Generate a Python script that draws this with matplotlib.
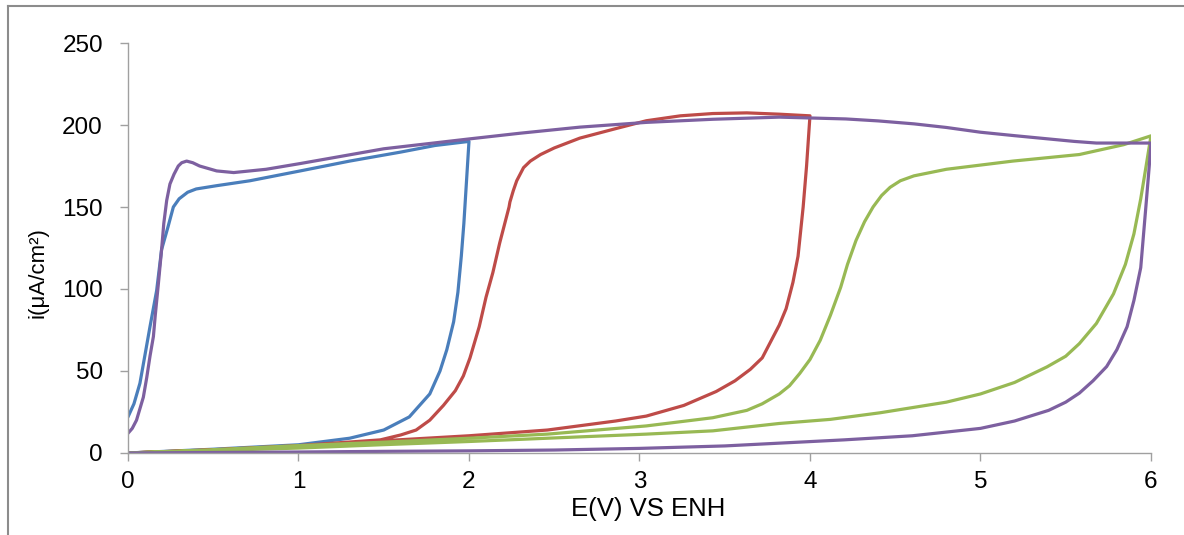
import matplotlib
matplotlib.use("Agg")
import matplotlib.pyplot as plt
from matplotlib.lines import Line2D

plt.rcParams['font.family'] = ['Liberation Sans', 'DejaVu Sans']

# Potential (V vs ENH) and current density (uA/cm2).
# Each loop: forward branch, then the return branch.
blue_e = [0, 0.5, 1.0, 1.3, 1.5, 1.65, 1.77, 1.83, 1.87, 1.91, 1.935, 1.955,
          1.97, 1.985, 2.0,
          1.8, 1.6, 1.3, 1.01, 0.715, 0.52, 0.4, 0.35, 0.3, 0.266, 0.235,
          0.197, 0.168, 0.129, 0.1, 0.07, 0.035, 0]
blue_i = [0, 2.3, 5, 9, 14, 22, 36, 50, 63, 80, 98, 120,
          140, 165, 190,
          187.5, 183.5, 178, 172, 166, 163, 161, 159, 155, 150, 138,
          124, 99, 77, 60, 42.5, 30, 22]

red_e = [0, 0.5, 1.0, 1.5, 2.0, 2.46, 2.86, 3.04, 3.26, 3.45, 3.56, 3.65,
         3.72, 3.77, 3.82, 3.86, 3.9, 3.93, 3.96, 3.98, 3.995, 4.0,
         3.82, 3.63, 3.43, 3.24, 3.04, 2.85, 2.65, 2.5, 2.42, 2.36, 2.32,
         2.28, 2.26, 2.24, 2.235, 2.225, 2.18, 2.14, 2.10, 2.06, 2.006, 1.967,
         1.92, 1.85, 1.77, 1.69, 1.6, 1.48, 1.0, 0.5, 0]
red_i = [0, 1.8, 4, 7.5, 10.5, 14, 19.5, 22.5, 29, 37.5, 44, 51,
         58, 68, 78, 88, 104, 120, 150, 175, 198, 205.6,
         206.6, 207.4, 207, 205.6, 202.6, 197.5, 192, 186, 182, 178, 174,
         166, 160, 153, 150, 146, 128, 110, 95, 77, 58, 47,
         38, 29, 20, 14, 11, 8, 4.5, 2, 0]

green_e = [0, 0.5, 1.0, 1.48, 2.0, 2.46, 3.04, 3.43, 3.82, 4.12, 4.41, 4.8,
           5.0, 5.2, 5.39, 5.5, 5.58, 5.68, 5.78, 5.85, 5.9, 5.94, 5.97, 6.0,
           5.84, 5.58, 5.19, 4.8, 4.61, 4.53, 4.47, 4.42, 4.37, 4.32, 4.27,
           4.22, 4.18, 4.12, 4.06, 4.0, 3.94, 3.88, 3.82, 3.72, 3.63, 3.43,
           3.04, 2.46, 2.0, 1.48, 1.0, 0.5, 0]
green_i = [0, 1.5, 3, 5, 7, 9, 11.5, 13.5, 18, 20.5, 24.5, 31,
           36, 43, 52.5, 59, 66.7, 79, 97, 115, 133.6, 155, 174, 193.4,
           188, 182, 178, 173, 169, 166, 162, 157, 150, 141, 129.6,
           115, 101, 84, 68.7, 57, 48.5, 41, 36, 30, 26, 21.5,
           16.5, 11.5, 9, 6.5, 4.5, 2, 0]

purple_e = [0, 1.0, 1.5, 2.0, 2.5, 3.0, 3.5, 3.82, 4.2, 4.6, 5.0, 5.2, 5.4,
            5.5, 5.58, 5.66, 5.74, 5.8, 5.86, 5.9, 5.94, 5.97, 5.99, 6.0,
            5.84, 5.68, 5.55, 5.39, 5.2, 5.0, 4.8, 4.61, 4.4, 4.21, 3.82,
            3.43, 3.04, 2.65, 2.3, 2.0, 1.5, 1.01, 0.81, 0.62, 0.52, 0.42,
            0.38, 0.344, 0.315, 0.295, 0.27, 0.246, 0.227, 0.21, 0.197, 0.178,
            0.16, 0.149, 0.129, 0.11, 0.09, 0.05, 0.025, 0]
purple_i = [0, 0.6, 1.0, 1.3, 1.8, 2.8, 4.3, 6, 8, 10.5, 15, 19.5, 26,
            31, 36.5, 44, 52.7, 63, 77, 93, 113, 150, 175, 189,
            189, 189, 190, 191.6, 193.5, 195.6, 198.5, 200.7, 202.5, 203.7,
            204.8, 203.5, 201.6, 198.7, 195, 191.5, 185.5, 176.5, 173, 171,
            172, 175, 177, 178, 177, 175, 170, 164, 154, 140, 124, 103,
            84, 71, 59, 46, 34, 20, 15, 12]

x_ticks = [0, 1, 2, 3, 4, 5, 6]
y_ticks = [0, 50, 100, 150, 200, 250]

fig = plt.figure(figsize=(11.84, 5.35), dpi=100)
ax = fig.add_axes([0.1081, 0.1533, 0.8640, 0.7663])

lw = 2.3
style = dict(lw=lw, solid_joinstyle='round', solid_capstyle='round')
ax.plot(blue_e, blue_i, color='#4A7EBB', **style)
ax.plot(red_e, red_i, color='#BE4B48', **style)
ax.plot(green_e, green_i, color='#98B954', **style)
ax.plot(purple_e, purple_i, color='#7D60A0', **style)

ax.set_xlim(0, 6)
ax.set_ylim(0, 250)
ax.set_xticks(x_ticks)
ax.set_yticks(y_ticks)
ax.tick_params(axis='both', direction='out', length=6, width=1, color='#A0A0A0',
               labelsize=17.5)
ax.tick_params(axis='y', pad=12)
ax.tick_params(axis='x', pad=7)
for side in ['top', 'right']:
    ax.spines[side].set_visible(False)
for side in ['left', 'bottom']:
    ax.spines[side].set_color('#A0A0A0')
    ax.spines[side].set_linewidth(1)

ax.set_xlabel('E(V) VS ENH', fontsize=18.5)
ax.xaxis.set_label_coords(0.509, -0.108)
ax.set_ylabel('i(μA/cm²)', fontsize=16)
ax.yaxis.set_label_coords(-0.078, 0.44)

# outer chart frame (only top and left edges visible in the picture)
fig.add_artist(Line2D([8 / 1184, 1.0], [1 - 6 / 535, 1 - 6 / 535],
                      transform=fig.transFigure, color='#8C8C8C', lw=1.5))
fig.add_artist(Line2D([8 / 1184, 8 / 1184], [0, 1 - 6 / 535],
                      transform=fig.transFigure, color='#8C8C8C', lw=1.5))

fig.savefig('out.png', dpi=100)
